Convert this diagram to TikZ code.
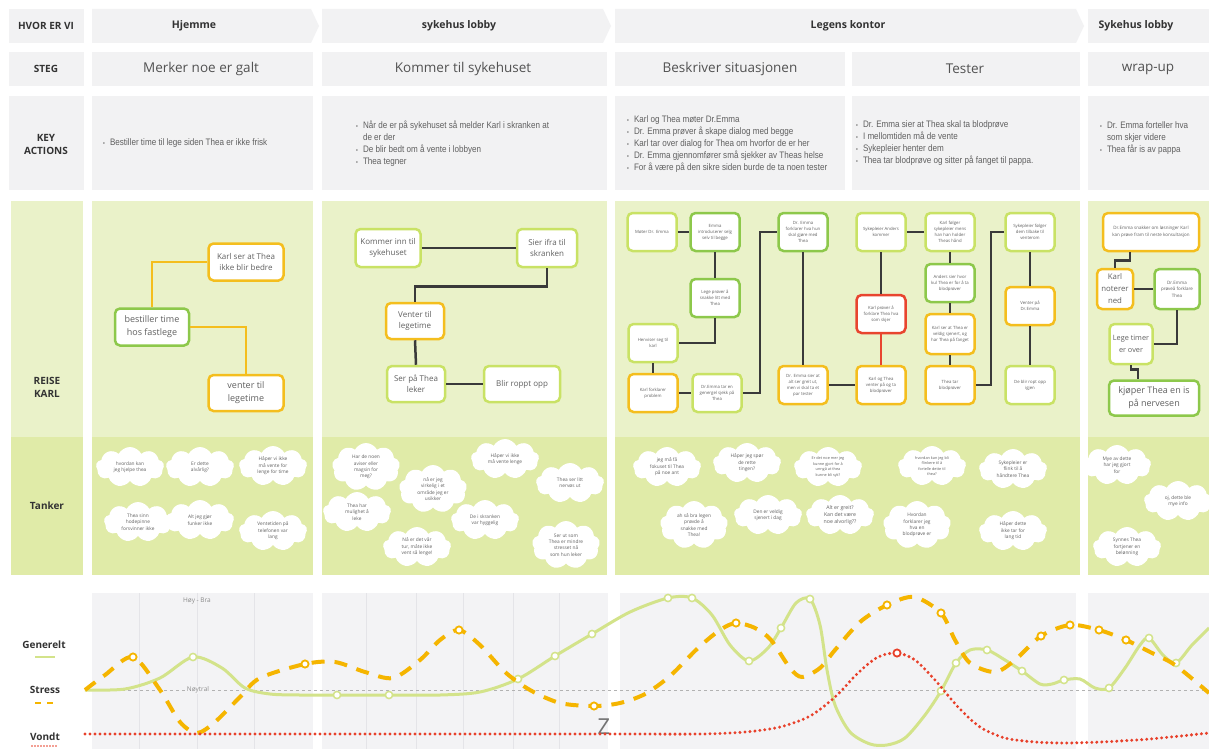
\documentclass[tikz,border=0pt]{standalone}
\usepackage{fontspec}
\setmainfont{Open Sans}
\newfontfamily\condfont[FakeStretch=0.86]{Liberation Sans}
\usetikzlibrary{shapes.symbols,calc}

\definecolor{hdr}{HTML}{F2F2F3}
\definecolor{lab}{HTML}{333333}
\definecolor{txt}{HTML}{606060}
\definecolor{laneA}{HTML}{EAF2C9}
\definecolor{laneB}{HTML}{E0EBA8}
\definecolor{cyel}{HTML}{F4BE1E}
\definecolor{cgrn}{HTML}{8DC84B}
\definecolor{clgr}{HTML}{C9E265}
\definecolor{cred}{HTML}{E8452F}
\definecolor{wire}{HTML}{3A3A3A}
\definecolor{band}{HTML}{F3F3F5}
\definecolor{bandline}{HTML}{E4E4E8}
\definecolor{gencol}{HTML}{D3E38A}
\definecolor{strcol}{HTML}{F5B500}
\definecolor{paincol}{HTML}{E8402A}

\newcommand{\fs}[2]{\fontsize{#1}{#2}\selectfont}
\newcommand{\kbul}{{\fontsize{6}{6}\selectfont\textbullet}}

\tikzset{
  lbl/.style={font=\bfseries\fs{10}{13}, text=lab, align=center, inner sep=0pt},
  hdrtxt/.style={font=\bfseries\fs{10.5}{13}, text=lab, inner sep=0pt},
  stegtxt/.style={font=\fs{13.5}{16}, text=lab!85, inner sep=0pt},
  kact/.style={anchor=west, inner sep=0pt, font=\condfont\fs{9.4}{11.9}, text=txt},
  box/.style={draw, rounded corners=5pt, fill=white, line width=2.5pt, align=center, text=txt, inner sep=1pt},
  byel/.style={box, draw=cyel},
  bgrn/.style={box, draw=cgrn},
  blgr/.style={box, draw=clgr},
  bred/.style={box, draw=cred},
  tiny/.style={font=\fs{4.3}{6}, minimum width=49, minimum height=38},
  wire/.style={draw=wire, line width=2.5pt},
  ywire/.style={draw=cyel, line width=2.2pt},
  thought/.style={cloud, cloud puffs=9, cloud puff arc=125, cloud ignores aspect,
    fill=white, inner sep=0pt, minimum width=68, minimum height=40,
    align=center, text=txt, font=\fs{4.8}{6.4}},
  tall/.style={minimum height=48},
  chartnote/.style={font=\fs{6.5}{8}, text=black!45, inner sep=1pt},
  gen/.style={draw=gencol, line width=3pt},
  str/.style={draw=strcol, line width=4pt, dash pattern=on 13pt off 10pt},
  pain/.style={draw=paincol, line width=3.3pt, line cap=round, dash pattern=on 0pt off 5pt},
  genmark/.style={draw=gencol, fill=white, line width=1.5pt},
  strmark/.style={draw=strcol, fill=white, line width=1.8pt},
  painmark/.style={draw=paincol, fill=white, line width=1.8pt},
}

\begin{document}
\begin{tikzpicture}[x=1pt, y=-1pt]
\useasboundingbox (0,0) rectangle (1209,749);
\fill[white] (0,0) rectangle (1209,749);

% ---------- row 1: where are we ----------
\fill[hdr] (9,9) rectangle (84,43);
\fill[hdr] (92,9) -- (311,9) -- (319,26) -- (311,43) -- (92,43) -- cycle;
\fill[hdr] (322,9) -- (603,9) -- (611,26) -- (603,43) -- (322,43) -- cycle;
\fill[hdr] (615,9) -- (1076,9) -- (1084,26) -- (1076,43) -- (615,43) -- cycle;
\fill[hdr] (1088,9) -- (1209,9) -- (1209,43) -- (1088,43) -- cycle;
\node[lbl] (lHvor) at (46,26) {HVOR ER VI};
\node[hdrtxt] (hHjem) at (194,26) {Hjemme};
\node[hdrtxt] (hLob) at (459,26) {sykehus lobby};
\node[hdrtxt] (hLeg) at (848,26) {Legens kontor};
\node[hdrtxt] (hSyk) at (1136,26) {Sykehus lobby};

% ---------- row 2: steps ----------
\fill[hdr] (9,52) rectangle (84,86);
\fill[hdr] (92,52) rectangle (313,86);
\fill[hdr] (322,52) rectangle (607,86);
\fill[hdr] (615,52) rectangle (845,86);
\fill[hdr] (852,52) rectangle (1080,86);
\fill[hdr] (1088,52) rectangle (1209,86);
\node[lbl] (lSteg) at (46,69) {STEG};
\node[stegtxt] (sMerk) at (201,69) {Merker noe er galt};
\node[stegtxt] (sKom) at (463,69) {Kommer til sykehuset};
\node[stegtxt] (sBesk) at (730,69) {Beskriver situasjonen};
\node[stegtxt] (sTest) at (965,69) {Tester};
\node[stegtxt] (sWrap) at (1148,69) {wrap-up};

% ---------- row 3: key actions ----------
\fill[hdr] (9,96) rectangle (84,190);
\fill[hdr] (92,96) rectangle (313,190);
\fill[hdr] (322,96) rectangle (607,190);
\fill[hdr] (615,96) rectangle (845,190);
\fill[hdr] (852,96) rectangle (1080,190);
\fill[hdr] (1088,96) rectangle (1209,190);
\node[lbl] (lKey) at (46,144) {KEY\\ACTIONS};
\node[kact] (kaHjem) at (103,143) {\begin{tabular}{@{}l@{\hspace{5pt}}l@{}}
\kbul & Bestiller time til lege siden Thea er ikke frisk\end{tabular}};
\node[kact] (kaLob) at (356,144) {\begin{tabular}{@{}l@{\hspace{5pt}}l@{}}
\kbul & Når de er på sykehuset så melder Karl i skranken at\\
 & de er der\\
\kbul & De blir bedt om å vente i lobbyen\\
\kbul & Thea tegner\end{tabular}};
\node[kact] (kaBesk) at (627,144) {\begin{tabular}{@{}l@{\hspace{5pt}}l@{}}
\kbul & Karl og Thea møter Dr.Emma\\
\kbul & Dr. Emma prøver å skape dialog med begge\\
\kbul & Karl tar over dialog for Thea om hvorfor de er her\\
\kbul & Dr. Emma gjennomfører små sjekker av Theas helse\\
\kbul & For å være på den sikre siden burde de ta noen tester\end{tabular}};
\node[kact] (kaTest) at (856,143) {\begin{tabular}{@{}l@{\hspace{5pt}}l@{}}
\kbul & Dr. Emma sier at Thea skal ta blodprøve\\
\kbul & I mellomtiden må de vente\\
\kbul & Sykepleier henter dem\\
\kbul & Thea tar blodprøve og sitter på fanget til pappa.\end{tabular}};
\node[kact] (kaWrap) at (1100,138) {\begin{tabular}{@{}l@{\hspace{5pt}}l@{}}
\kbul & Dr. Emma forteller hva\\
 & som skjer videre\\
\kbul & Thea får is av pappa\end{tabular}};

% ---------- lanes: journey and thoughts ----------
\foreach \xa/\xb in {11/83, 92/313, 322/607, 615/1080, 1088/1209} {
  \fill[laneA] (\xa,201) rectangle (\xb,437);
  \fill[laneB] (\xa,437) rectangle (\xb,575);
}
\node[lbl] (lReise) at (47,387) {REISE\\KARL};
\node[lbl] (lTank) at (47,506) {Tanker};

% journey: at home
\node[byel, minimum width=75, minimum height=37, font=\fs{8}{11}] (hKarl) at (246,262) {Karl ser at Thea\\ikke blir bedre};
\node[bgrn, minimum width=74, minimum height=37, font=\fs{9}{13}] (hBest) at (152,327) {bestiller time\\hos fastlege};
\node[byel, minimum width=75, minimum height=36, font=\fs{9}{13}] (hVent) at (246,393) {venter til\\legetime};
\draw[ywire] (hBest.north) |- (hKarl.west);
\draw[ywire] (hBest.east) -| (hVent.north);

% journey: hospital lobby
\node[blgr, minimum width=65, minimum height=38, font=\fs{8}{11}] (lKom) at (388,248) {Kommer inn til\\sykehuset};
\node[blgr, minimum width=60, minimum height=38, font=\fs{8}{11}] (lSier) at (547,248) {Sier ifra til\\skranken};
\node[byel, minimum width=58, minimum height=36, font=\fs{8}{11}] (lVent) at (415,321) {Venter til\\legetime};
\node[blgr, minimum width=58, minimum height=36, font=\fs{8}{11}] (lSer) at (416,384) {Ser på Thea\\leker};
\node[blgr, minimum width=76, minimum height=36, font=\fs{8}{11}] (lBlir) at (522,384) {Blir roppt opp};
\draw[wire] (lKom.east) -- (lSier.west);
\draw[wire] (lSier.south) -- ++(0,18) -| (lVent.north);
\draw[wire] (lVent.south) -- (lSer.north);
\draw[wire] (lSer.east) -- (lBlir.west);

% journey: doctor's office, describing
\node[blgr, tiny] (gMot) at (652,232) {Møter Dr. Emma};
\node[bgrn, tiny] (gEmma) at (715,232) {Emma\\introduserer selg\\selv til begge};
\node[bgrn, tiny] (gLege) at (715,298) {Lege prøver å\\snakke litt med\\Thea};
\node[blgr, tiny] (gHenv) at (653,343) {Henviser seg til\\karl};
\node[byel, tiny] (gKarlF) at (653,393) {Karl forklarer\\problem};
\node[blgr, tiny] (gSjekk) at (717,393) {Dr.Emma tar en\\genergel sjekk på\\Thea};
\node[bgrn, tiny] (gForkl) at (803,232) {Dr. Emma\\forklarer hva hun\\skal gjøre med\\Thea};
\node[byel, tiny] (gSier) at (803,385) {Dr. Emma sier at\\alt ser greit ut,\\men vi skal ta et\\par tester};
\draw[wire] (gMot.east) -- (gEmma.west);
\draw[wire] (gEmma.south) -- (gLege.north);
\draw[wire] (gLege.south) |- (gHenv.east);
\draw[wire] (gHenv.south) -- (gKarlF.north);
\draw[wire] (gKarlF.east) -- (gSjekk.west);
\draw[wire] (gSjekk.east) -- ++(17,0) |- (gForkl.west);
\draw[wire] (gForkl.south) -- (gSier.north);

% journey: doctor's office, tests
\node[blgr, tiny] (tAnd) at (881,232) {Sykepleier Anders\\kommer};
\node[blgr, tiny] (tFolg) at (950,232) {Karl følger\\sykepleier mens\\han han holder\\Theas hånd};
\node[bgrn, tiny] (tAnds) at (950,283) {Anders sier hvor\\kul Thea er for å ta\\blodprøver};
\node[bred, tiny] (tProv) at (881,314) {Karl prøver å\\forklare Thea hva\\som skjer};
\node[byel, tiny, minimum height=40] (tSer) at (950,334) {Karl ser at Thea er\\veldig sjenert, og\\har Thea på fanget};
\node[byel, tiny] (tVent) at (881,385) {Karl og Thea\\venter på og ta\\blodprøver};
\node[byel, tiny] (tTar) at (950,385) {Thea tar\\blodprøver};
\node[blgr, tiny] (tSyk) at (1030,232) {Sykepleier følger\\dem tilbake til\\venterom};
\node[byel, tiny] (tVdr) at (1030,306) {Venter på\\Dr.Emma};
\node[blgr, tiny] (tRopt) at (1030,385) {De blir ropt opp\\igjen};
\draw[wire] (gSier.east) -- (tVent.west);
\draw[wire] (tAnd.east) -- (tFolg.west);
\draw[wire] (tAnd.south) -- (tProv.north);
\draw[draw=cred, line width=2.5pt] (tProv.south) -- (tVent.north);
\draw[wire] (tFolg.south) -- (tAnds.north);
\draw[wire] (tAnds.south) -- (tSer.north);
\draw[wire] (tSer.south) -- (tTar.north);
\draw[wire] (tTar.east) -- ++(15,0) |- (tSyk.west);
\draw[wire] (tSyk.south) -- (tVdr.north);
\draw[wire] (tVdr.south) -- (tRopt.north);

% journey: wrap-up
\node[byel, minimum width=96, minimum height=38, font=\fs{4.5}{6.5}] (wSnak) at (1151,232) {Dr.Emma snakker om løsninger Karl\\kan prøve fram til neste konsultasjon};
\node[byel, minimum width=36, minimum height=40, font=\fs{7.8}{12}, inner sep=0pt] (wNot) at (1115,289) {Karl\\noterer\\ned};
\node[bgrn, minimum width=45, minimum height=40, font=\fs{4.5}{6.5}, inner sep=0pt] (wProv) at (1177,289) {Dr.Emma\\prøveå forklare\\Thea};
\node[blgr, minimum width=43, minimum height=40, font=\fs{7.3}{12}, inner sep=0pt] (wLege) at (1131,344) {Lege timer\\er over};
\node[bgrn, minimum width=90, minimum height=35, font=\fs{9}{13}] (wKjop) at (1154,398) {kjøper Thea en is\\på nervesen};
\draw[wire] ([xshift=-21pt]wSnak.south) -- ++(0,8) -| (wNot.north);
\draw[wire] (wNot.east) -- (wProv.west);
\draw[wire] (wProv.south) |- (wLege.east);
\draw[wire] (wLege.south) -- ++(0,4) -| ([xshift=-16pt]wKjop.north);

% thoughts: at home
\node[thought] (c1) at (130,467) {hvordan kan\\jeg hjelpe thea};
\node[thought] (c2) at (200,467) {Er dette\\alvårlig?};
\node[thought] (c3) at (273,466) {Håper vi ikke\\må vente for\\lenge for time};
\node[thought] (c4) at (138,522) {Thea sinn\\hodepinne\\forsvinner ikke};
\node[thought] (c5) at (200,520) {Alt jeg gjør\\funker ikke};
\node[thought] (c6) at (273,531) {Ventetiden på\\telefonen var\\lang};

% thoughts: hospital lobby
\node[thought, tall] (c7) at (366,467) {Har de noen\\aviser eller\\magsin for\\meg?};
\node[thought, tall] (c8) at (433,489) {nå er jeg\\virkelig i et\\område jeg er\\usikker};
\node[thought] (c9) at (505,459) {Håper vi ikke\\må vente lenge};
\node[thought] (c10) at (570,483) {Thea ser litt\\nervøs ut};
\node[thought] (c11) at (357,512) {Thea har\\mulighet å\\leke};
\node[thought] (c12) at (485,520) {De i skranken\\var hyggelig};
\node[thought] (c13) at (417,547) {Nå er det vår\\tur, måte ikke\\vent så lenge!};
\node[thought, tall] (c14) at (566,545) {Ser ut som\\Thea er mindre\\stresset nå\\som hun leker};

% thoughts: doctor's office
\node[thought] (c15) at (667,467) {jeg må få\\fokuset til Thea\\på noe ant};
\node[thought] (c16) at (747,463) {Håper jeg spør\\de rette\\tingen?};
\node[thought, font=\fs{3.8}{5.4}] (c17) at (828,467) {Er det noe mer jeg\\kunne gjort for å\\unngå at thea\\kunne bli syk?};
\node[thought, tall] (c18) at (694,525) {ah så bra legen\\prøvde å\\snakke med\\Thea!};
\node[thought] (c19) at (768,515) {Den er veldig\\sjenert i dag};
\node[thought, font=\fs{5.2}{7}] (c20) at (840,515) {Alt er greit?\\Kan det være\\noe alvorlig??};
\node[thought, font=\fs{3.8}{5.4}] (c21) at (932,466) {hvordan kan jeg bli\\flinkere til å\\fortelle dette til\\thea?};
\node[thought] (c22) at (1013,469) {Sykepleier er\\flink til å\\håndtere Thea};
\node[thought, tall] (c23) at (917,525) {Hvordan\\forklarer jeg\\hva en\\blodprøve er};
\node[thought] (c24) at (1013,531) {Håper dette\\ikke tar for\\lang tid};

% thoughts: wrap-up
\node[thought] (c25) at (1117,465) {Mye av dette\\har jeg gjort\\for};
\node[thought] (c26) at (1178,501) {oj, dette ble\\mye info};
\node[thought] (c27) at (1127,547) {Synnes Thea\\fortjener en\\belønning};

% ---------- emotion chart ----------
\foreach \xa/\xb in {92/313, 322/608, 620/1076, 1088/1209}
  \fill[band] (\xa,593) rectangle (\xb,749);
\foreach \xv in {139,197,254,366,416,463,513,559}
  \draw[bandline, line width=0.8pt] (\xv,593) -- (\xv,749);
\draw[black!30, line width=0.9pt, dash pattern=on 3pt off 3pt] (92,690) -- (1209,690);
\node[chartnote, fill=band] (nNeut) at (198,690) {Nøytral};
\node[chartnote] (nHoy) at (197,601) {Høy - Bra};

\node[lbl] (lGen) at (44,645) {Generelt};
\node[lbl] (lStr) at (45,690) {Stress};
\node[lbl] (lPain) at (45,737) {Vondt};
\draw[gen, line width=2pt] (35,657) -- (55,657);
\draw[draw=strcol, line width=2.5pt, dash pattern=on 6pt off 6pt] (35,703) -- (58,703);
\draw[draw=paincol, line width=1.8pt, line cap=round, dash pattern=on 0pt off 3pt] (32,746) -- (56,746);

\node[font=\fs{22}{22}, text=black!55, inner sep=0pt] (zz) at (604,727) {Z};

\draw[gen] plot[smooth, tension=0.5] coordinates {
 (85,690) (125,689) (160,678) (193,657) (222,668) (245,688) (270,694) (300,695)
 (337,695) (389,695) (440,695) (480,692) (518,679) (555,656) (592,634) (630,612)
 (668,598) (692,598) (712,615) (730,645) (749,661) (768,648) (781,628) (796,603)
 (810,599) (820,625) (827,670) (835,705) (850,732) (870,744) (887,745) (905,738)
 (925,715) (941,691) (956,663) (970,650) (987,650) (1005,660) (1022,671) (1040,684)
 (1052,684) (1064,680) (1080,679) (1095,688) (1109,688) (1125,668) (1140,645)
 (1149,638) (1163,655) (1176,663) (1192,645) (1209,628)};
\foreach \xv/\yv in {193/657, 337/695, 389/695, 518/679, 555/656, 592/634, 668/598,
  692/598, 749/661, 781/628, 810/599, 941/691, 956/663, 987/650, 1022/671,
  1064/680, 1109/688, 1149/638, 1176/663}
  \draw[genmark] (\xv,\yv) circle (3.6pt);

\draw[str] plot[smooth, tension=0.5] coordinates {
 (85,690) (105,675) (133,657) (160,690) (180,722) (197,733) (215,722) (240,697)
 (260,678) (305,664) (335,662) (365,672) (393,678) (420,660) (440,640) (459,630)
 (480,645) (505,672) (530,690) (560,703) (594,706) (620,703) (645,694) (670,676)
 (698,648) (720,630) (736,623) (755,628) (771,640) (790,668) (802,677) (820,668)
 (835,650) (860,622) (887,605) (914,597) (941,613) (955,640) (970,663) (995,672)
 (1015,660) (1041,636) (1070,625) (1099,630) (1126,640) (1150,652) (1175,665) (1209,693)};
\foreach \xv/\yv in {133/657, 305/664, 459/630, 594/706, 736/623, 887/605, 941/613,
  1041/636, 1070/625, 1099/630, 1126/640}
  \draw[strmark] (\xv,\yv) circle (3.6pt);

\draw[pain] plot[smooth, tension=0.5] coordinates {
 (85,734) (300,734) (600,734) (700,734) (745,732) (780,727) (810,716) (835,697)
 (858,673) (878,657) (897,653) (915,660) (935,680) (958,707) (980,727) (1005,738)
 (1035,742) (1064,743) (1100,742) (1150,739) (1209,733)};
\draw[painmark] (897,653) circle (3.6pt);
\end{tikzpicture}
\end{document}
